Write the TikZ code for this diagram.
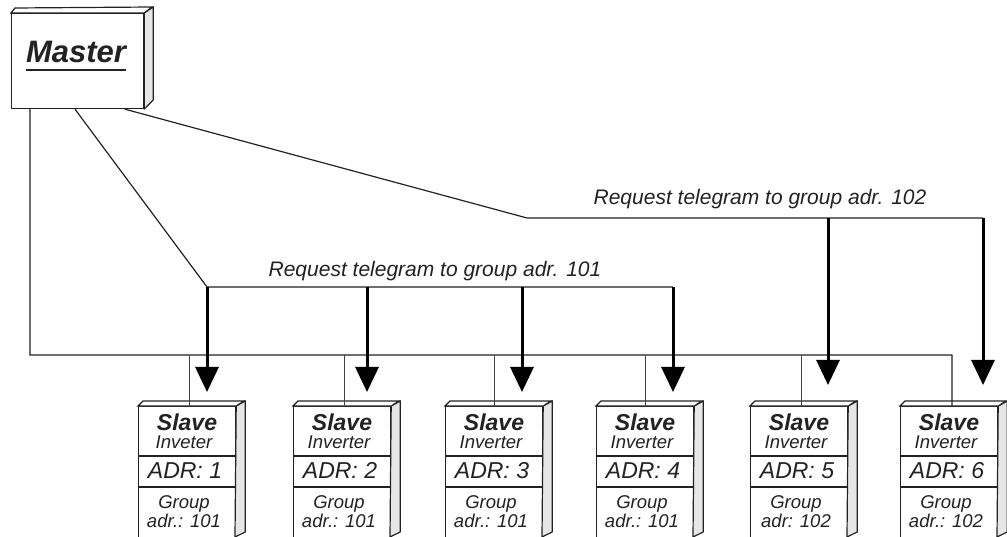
\documentclass[tikz,border=0pt]{standalone}
\usepackage{fontspec}
\setmainfont{Liberation Sans}
\usetikzlibrary{arrows.meta}
\definecolor{ink}{HTML}{222222}
\definecolor{sideface}{HTML}{E6E6E6}
\tikzset{
  wire/.style={draw=ink, line width=1.2bp},
  dropline/.style={draw=ink!85, line width=1bp},
  telegram/.style={draw=black, line width=3bp, -{Triangle[length=25bp,width=23bp]}},
  face/.style={draw=ink, line width=1.2bp, fill=white, inner sep=0pt},
  sidepart/.style={draw=ink, line width=1.2bp, fill=sideface, line join=round},
  lbl/.style={text=ink, inner sep=0pt, anchor=base},
  fslave/.style={font=\bfseries\itshape\fontsize{23bp}{23bp}\selectfont},
  fsmall/.style={font=\itshape\fontsize{18.5bp}{18.5bp}\selectfont},
  fadr/.style={font=\itshape\fontsize{23bp}{23bp}\selectfont},
  freq/.style={font=\itshape\fontsize{21bp}{21bp}\selectfont},
}
\begin{document}
\begin{tikzpicture}[x=1bp, y=-1bp]
\useasboundingbox (0,0) rectangle (1007,537);

% master unit
\node[face, minimum width=132bp, minimum height=95bp, anchor=north west] (master) at (11,13) {};
\draw[sidepart] (master.north east) -- ++(9,-6) -- ++(0,93) -- (master.south east) -- cycle;
\draw[face] (master.north west) -- ++(4,-5) -- ++(137,-1) -- (master.north east) -- cycle;
\node[lbl, font=\bfseries\itshape\fontsize{31bp}{31bp}\selectfont] (mtext) at (76,63) {Master};
\draw[ink, line width=2bp] ([yshift=-7bp]mtext.base west) -- ([yshift=-7bp]mtext.base east);

% slave units
\foreach \i/\l/\t/\g in {1/138/Inveter/adr.: 101, 2/293/Inverter/adr.: 101, 3/445/Inverter/adr.: 101,
                         4/596/Inverter/adr.: 101, 5/750/Inverter/adr: 102, 6/900/Inverter/adr.: 102}{
  \node[face, minimum width=97bp, minimum height=150bp, anchor=north west] (s\i) at (\l,406) {};
  \draw[sidepart] (s\i.north east) -- ++(9,-5) -- ++(0,131) -- (\l+97,537) -- cycle;
  \draw[face] (s\i.north west) -- ++(5,-5) -- ++(101,0) -- (s\i.north east) -- cycle;
  \draw[ink, line width=1.2bp] (\l,456) -- (\l+97,456);
  \draw[ink, line width=1.2bp] (\l,487) -- (\l+97,487);
  \node[lbl, fslave] at (\l+49,430) {Slave};
  \node[lbl, fsmall] at (\l+46,448) {\t};
  \node[lbl, fadr]   at (\l+47,478) {ADR: \i};
  \node[lbl, fsmall] at (\l+46,508) {Group};
  \node[lbl, fsmall] at (\l+46,527) {\g};
}

% common bus from the master to every slave
\coordinate (busA) at (30,355);
\coordinate (busB) at (952,355);
\draw[wire] ([xshift=19bp]master.south west) -- (busA) -- (busB) -- (busB |- s6.north);
\foreach \i/\d in {1/189, 2/344, 3/494, 4/645, 5/801}{
  \coordinate (d\i) at (\d,355);
  \draw[dropline] (d\i) -- (d\i |- s\i.north);
}

% group 101 request
\coordinate (g1) at (207,287);
\coordinate (g1e) at (673,287);
\draw[wire] ([xshift=64bp]master.south west) -- (g1) -- (g1e);
\node[lbl, freq] (r101) at (435,277) {Request telegram to group adr. 101};
\foreach \i/\a in {1/207, 2/367, 3/522, 4/673}{
  \coordinate (t\i) at (\a,287);
  \draw[telegram] (t\i) -- ([yshift=14bp]t\i |- s\i.north);
}

% group 102 request
\coordinate (g2) at (527,218);
\coordinate (g2e) at (983,218);
\draw[wire] ([xshift=114bp]master.south west) -- (g2) -- (g2e);
\node[lbl, freq] (r102) at (760,205) {Request telegram to group adr. 102};
\foreach \i/\a in {5/828, 6/983}{
  \coordinate (t\i) at (\a,218);
  \draw[telegram] (t\i) -- ([yshift=21bp]t\i |- s\i.north);
}
\end{tikzpicture}
\end{document}
